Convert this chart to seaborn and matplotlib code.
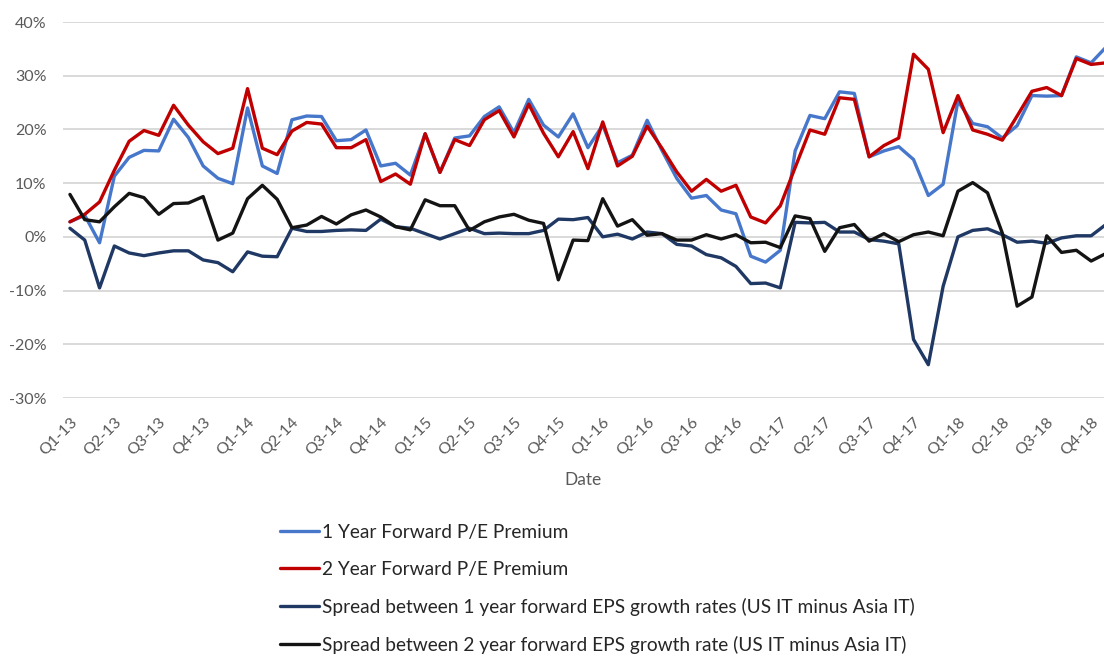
import matplotlib
matplotlib.use("Agg")
import matplotlib.pyplot as plt
import numpy as np
import pandas as pd
import seaborn as sns

# monthly observations, Jan-13 .. Nov-18 (last one falls just past the right edge)
pe_1y = [2.8, 4.0, -1.1, 11.3, 14.8, 16.1, 16.0, 21.9, 18.5, 13.2, 10.9, 9.9,
         24.0, 13.2, 11.8, 21.8, 22.5, 22.4, 17.9, 18.1, 19.9, 13.2, 13.7, 11.5,
         19.2, 12.0, 18.4, 18.8, 22.4, 24.2, 19.4, 25.6, 20.8, 18.6, 22.9, 16.6,
         20.8, 13.8, 15.2, 21.7, 16.1, 10.9, 7.2, 7.7, 5.0, 4.3, -3.6, -4.7,
         -2.5, 16.0, 22.6, 22.0, 27.0, 26.7, 14.9, 16.0, 16.8, 14.4, 7.7, 9.8,
         25.3, 21.1, 20.5, 18.4, 20.7, 26.3, 26.2, 26.3, 33.5, 32.4, 35.3]
pe_2y = [2.8, 4.2, 6.5, 12.4, 17.8, 19.8, 18.9, 24.5, 20.8, 17.7, 15.5, 16.5,
         27.6, 16.5, 15.3, 19.7, 21.3, 21.0, 16.6, 16.6, 18.1, 10.3, 11.7, 9.8,
         19.2, 12.0, 18.1, 17.0, 21.8, 23.5, 18.6, 24.7, 19.3, 14.9, 19.6, 12.7,
         21.4, 13.2, 15.0, 20.6, 16.5, 12.1, 8.5, 10.7, 8.5, 9.6, 3.7, 2.6,
         5.8, 12.9, 19.9, 19.1, 25.9, 25.6, 14.9, 17.0, 18.4, 34.0, 31.2, 19.4,
         26.3, 19.9, 19.1, 18.0, 22.5, 27.1, 27.8, 26.3, 33.2, 32.1, 32.4]
eps_1y = [1.6, -0.6, -9.5, -1.7, -3.0, -3.5, -3.0, -2.6, -2.6, -4.3, -4.8, -6.5,
          -2.8, -3.6, -3.7, 1.6, 1.0, 1.0, 1.2, 1.3, 1.2, 3.3, 1.9, 1.6,
          0.6, -0.4, 0.6, 1.6, 0.6, 0.7, 0.6, 0.6, 1.2, 3.3, 3.2, 3.6,
          0.0, 0.5, -0.4, 0.9, 0.6, -1.4, -1.7, -3.3, -3.9, -5.5, -8.7, -8.6,
          -9.5, 2.7, 2.6, 2.7, 0.9, 0.9, -0.5, -0.8, -1.3, -19.1, -23.8, -9.2,
          0.0, 1.2, 1.5, 0.4, -1.0, -0.8, -1.2, -0.2, 0.2, 0.2, 2.3]
eps_2y = [7.9, 3.2, 2.8, 5.6, 8.1, 7.3, 4.2, 6.2, 6.3, 7.5, -0.6, 0.7,
          7.1, 9.6, 7.0, 1.7, 2.2, 3.8, 2.4, 4.1, 5.0, 3.7, 1.9, 1.3,
          6.9, 5.8, 5.8, 1.2, 2.8, 3.7, 4.2, 3.1, 2.5, -8.0, -0.6, -0.7,
          7.1, 2.0, 3.2, 0.3, 0.6, -0.6, -0.6, 0.4, -0.4, 0.4, -1.1, -1.0,
          -2.0, 3.9, 3.4, -2.7, 1.7, 2.3, -0.8, 0.6, -0.9, 0.4, 0.9, 0.2,
          8.5, 10.1, 8.2, 0.7, -12.9, -11.2, 0.2, -2.9, -2.5, -4.5, -3.1]

quarter_labels = ["Q1-13", "Q2-13", "Q3-13", "Q4-13", "Q1-14", "Q2-14", "Q3-14", "Q4-14",
                  "Q1-15", "Q2-15", "Q3-15", "Q4-15", "Q1-16", "Q2-16", "Q3-16", "Q4-16",
                  "Q1-17", "Q2-17", "Q3-17", "Q4-17", "Q1-18", "Q2-18", "Q3-18", "Q4-18"]

series_names = ["1 Year Forward P/E Premium",
                "2 Year Forward P/E Premium",
                "Spread between 1 year forward EPS growth rates (US IT minus Asia IT)",
                "Spread between 2 year forward EPS growth rate (US IT minus Asia IT)"]
colors = ["#4677CB", "#C00000", "#1F3864", "#141414"]


def build_frame():
    frames = []
    for name, vals in zip(series_names, [pe_1y, pe_2y, eps_1y, eps_2y]):
        frames.append(pd.DataFrame({"month": np.arange(len(vals)), "value": vals, "series": name}))
    return pd.concat(frames, ignore_index=True)


def main():
    sns.set_style("white")
    plt.rcParams["font.family"] = ["Lato", "DejaVu Sans"]

    df = build_frame()
    fig = plt.figure(figsize=(11.04, 6.56), dpi=100)
    ax = fig.add_axes([63 / 1104, 1 - 398 / 656, 1 - 63 / 1104, (398 - 22) / 656])

    sns.lineplot(data=df, x="month", y="value", hue="series", hue_order=series_names,
                 palette=colors, linewidth=2.4, ax=ax)

    ax.set_xlim(-0.47, 69.87)
    ax.set_ylim(-30, 40)
    ax.set_yticks(np.arange(-30, 41, 10))
    ax.set_yticklabels([f"{v}%" for v in range(-30, 41, 10)])
    ax.set_xticks(np.arange(0, 70, 3))
    ax.set_xticklabels(quarter_labels, rotation=45, ha="right", rotation_mode="anchor")
    ax.tick_params(axis="both", length=0, labelsize=11.5, labelcolor="#595959")
    ax.tick_params(axis="x", pad=12)
    ax.tick_params(axis="y", pad=12)
    ax.yaxis.grid(True, color="#d9d9d9", linewidth=1.4)
    ax.set_axisbelow(True)
    for s in ax.spines.values():
        s.set_visible(False)
    ax.set_xlabel("Date", fontsize=12.5, color="#595959", labelpad=10)
    ax.set_ylabel("")

    handles, labels = ax.get_legend_handles_labels()
    ax.get_legend().remove()
    fig.legend(handles, labels, loc="upper left", bbox_to_anchor=(280 / 1104, 1 - 524 / 656),
               frameon=False, fontsize=13.8, handlelength=2.05, handletextpad=0.15,
               labelspacing=1.04, borderpad=0, borderaxespad=0, labelcolor="#262626")

    fig.savefig("out.png", dpi=100)
    plt.close()


if __name__ == "__main__":
    main()
